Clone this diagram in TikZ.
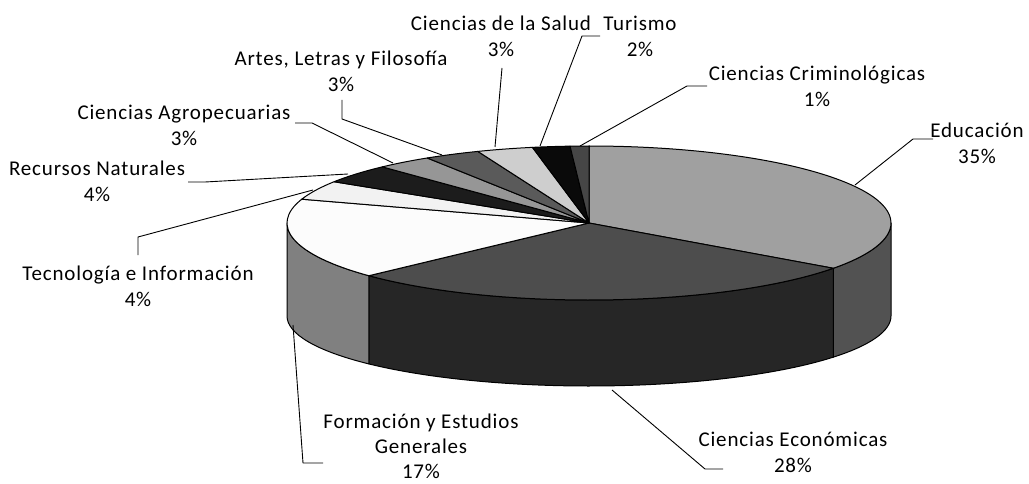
\documentclass[tikz,border=0pt]{standalone}
\usepackage{fontspec}
\setmainfont{Carlito}[LetterSpace=4]
\usetikzlibrary{calc}
\definecolor{cEdu}{RGB}{160,160,160}
\definecolor{cEduS}{RGB}{82,82,82}
\definecolor{cEco}{RGB}{77,77,77}
\definecolor{cEcoS}{RGB}{38,38,38}
\definecolor{cFor}{RGB}{252,252,252}
\definecolor{cForS}{RGB}{128,128,128}
\definecolor{cTec}{RGB}{242,242,242}
\definecolor{cRec}{RGB}{28,28,28}
\definecolor{cAgr}{RGB}{150,150,150}
\definecolor{cArt}{RGB}{90,90,90}
\definecolor{cSal}{RGB}{206,206,206}
\definecolor{cTur}{RGB}{10,10,10}
\definecolor{cCri}{RGB}{70,70,70}
\newcommand\pieside[3]{\filldraw[edge, fill=#3] ($(C)+(#1:302pt and 77pt)$) arc[start angle=#1, end angle=#2, x radius=302pt, y radius=77pt] -- ($(B)+(#2:302pt and 70pt)$) arc[start angle=#2, end angle=#1, x radius=302pt, y radius=70pt] -- cycle;}
\newcommand\pietop[3]{\filldraw[edge, fill=#3] (C) -- ($(C)+(#1:302pt and 77pt)$) arc[start angle=#1, end angle=#2, x radius=302pt, y radius=77pt] -- cycle;}
\begin{document}
\begin{tikzpicture}[x=1pt,y=1pt, line join=round,
  edge/.style={draw=black, line width=1pt},
  lead/.style={draw=black, line width=0.9pt},
  lbl/.style={align=center, inner sep=0pt, font=\fontsize{21}{26}\selectfont}]
\useasboundingbox (0,0) rectangle (1029,483);
\coordinate (C) at (589,260);
\coordinate (B) at (589,167);
% sides
\pieside{-36}{0}{cEduS}
\pieside{-136.8}{-36}{cEcoS}
\pieside{-180}{-136.8}{cForS}
% tops
\pietop{90}{-36}{cEdu}
\pietop{-36}{-136.8}{cEco}
\pietop{-136.8}{-198}{cFor}
\pietop{-198}{-212.4}{cTec}
\pietop{-212.4}{-226.8}{cRec}
\pietop{-226.8}{-237.6}{cAgr}
\pietop{-237.6}{-248.4}{cArt}
\pietop{-248.4}{-259.2}{cSal}
\pietop{-259.2}{-266.4}{cTur}
\pietop{-266.4}{-270}{cCri}
% labels
\node[lbl] (lSal) at (501,446.5) {Ciencias de la Salud\\3\%};
\node[lbl] (lTur) at (640,446.5) {Turismo\\2\%};
\node[lbl] (lCri) at (817,397) {Ciencias Criminológicas\\1\%};
\node[lbl] (lEdu) at (977,340) {Educación\\35\%};
\node[lbl] (lArt) at (341,411.5) {Artes, Letras y Filosofía\\3\%};
\node[lbl] (lAgr) at (184,358) {Ciencias Agropecuarias\\3\%};
\node[lbl] (lRec) at (97,301.5) {Recursos Naturales\\4\%};
\node[lbl] (lTec) at (138,197) {Tecnología e Información\\4\%};
\node[lbl, font=\fontsize{21}{25}\selectfont] (lFor) at (421,37) {Formación y Estudios\\Generales\\17\%};
\node[lbl] (lEco) at (793,30.5) {Ciencias Económicas\\28\%};
% leader coordinates
\coordinate (pSal) at (495,336); \coordinate (aSal) at (502,415);
\coordinate (pTur) at (540,337); \coordinate (aTur) at (600,447);
\coordinate (pCri) at (580,337); \coordinate (aCri) at (707,397);
\coordinate (pEdu) at (855,298); \coordinate (aEdu) at (933,344);
\coordinate (pArt) at (442,328); \coordinate (aArt) at (342,383);
\coordinate (pAgr) at (393,320); \coordinate (aAgr) at (295,360);
\coordinate (pRec) at (348,309); \coordinate (aRec) at (188,301);
\coordinate (pTec) at (313,293); \coordinate (aTec) at (138,228);
\coordinate (pFor) at (293,158); \coordinate (aFor) at (323,20);
\coordinate (pEco) at (612,93);  \coordinate (aEco) at (723,14);
\draw[lead] (aSal) -- (pSal);
\draw[lead] (aTur) -- (582,447) -- (pTur);
\draw[lead] (aCri) -- (687,397) -- (pCri);
\draw[lead] (aEdu) -- (913,344) -- (pEdu);
\draw[lead] (aArt) -- (342,364) -- (pArt);
\draw[lead] (aAgr) -- (312,360) -- (pAgr);
\draw[lead] (aRec) -- (205,301) -- (pRec);
\draw[lead] (aTec) -- (138,246) -- (pTec);
\draw[lead] (aFor) -- (303,20) -- (pFor);
\draw[lead] (aEco) -- (705,14) -- (pEco);
\end{tikzpicture}
\end{document}
